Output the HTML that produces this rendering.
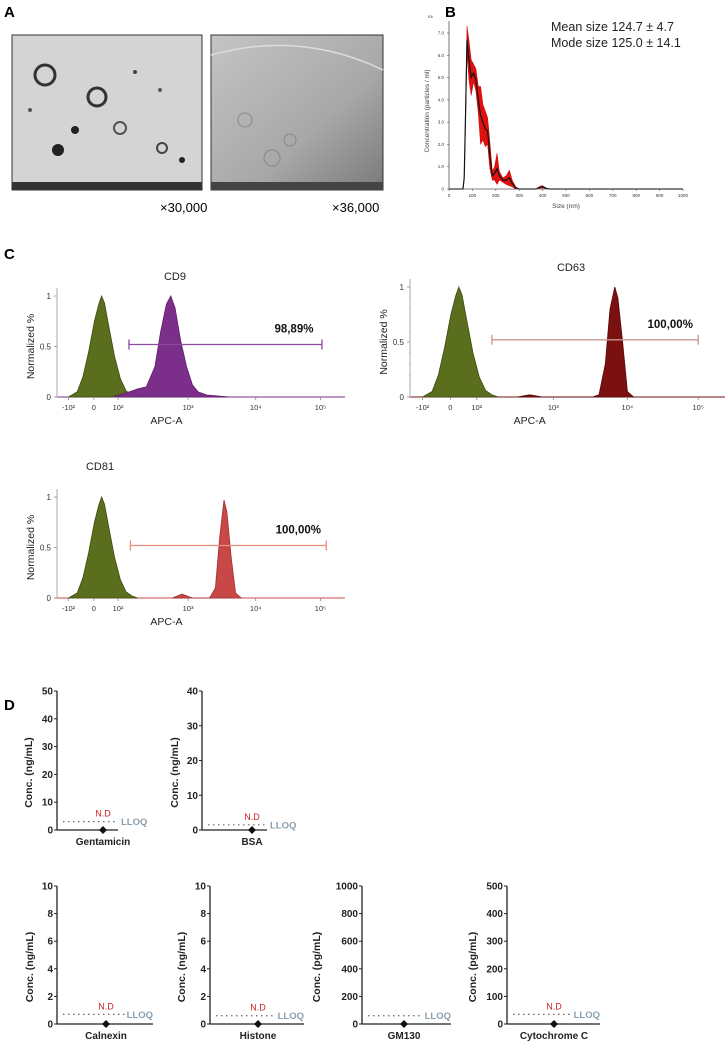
<!DOCTYPE html>
<html><head><meta charset="utf-8"><style>
html,body{margin:0;padding:0;background:#fff;}
svg{display:block;font-family:"Liberation Sans",sans-serif;}
</style></head><body>
<svg id="fig" width="728" height="1041" viewBox="0 0 728 1041" xmlns="http://www.w3.org/2000/svg">
<defs>
<linearGradient id="gA2" x1="0" y1="0" x2="1" y2="1">
<stop offset="0" stop-color="#c4c4c4"/><stop offset="0.6" stop-color="#a8a8a8"/><stop offset="1" stop-color="#7a7a7a"/>
</linearGradient>
</defs>
<text x="4" y="17" font-size="15" font-weight="bold">A</text>
<g>
<rect x="12" y="35" width="190" height="155" fill="#d4d4d4" stroke="#333" stroke-width="1"/>
<circle cx="45" cy="75" r="10" fill="none" stroke="#333" stroke-width="3"/>
<circle cx="97" cy="97" r="9" fill="none" stroke="#333" stroke-width="3"/>
<circle cx="120" cy="128" r="6" fill="none" stroke="#555" stroke-width="2"/>
<circle cx="75" cy="130" r="4" fill="#222"/>
<circle cx="58" cy="150" r="6" fill="#222"/>
<circle cx="162" cy="148" r="5" fill="none" stroke="#444" stroke-width="2"/>
<circle cx="182" cy="160" r="3" fill="#222"/>
<circle cx="135" cy="72" r="2" fill="#444"/><circle cx="160" cy="90" r="2" fill="#555"/><circle cx="30" cy="110" r="2" fill="#555"/>
<rect x="12" y="182" width="190" height="8" fill="#333"/>
</g>
<g>
<rect x="211" y="35" width="172" height="155" fill="url(#gA2)" stroke="#333" stroke-width="1"/>
<path d="M211 55 Q300 30 383 70" fill="none" stroke="#ddd" stroke-width="1.5"/>
<circle cx="245" cy="120" r="7" fill="none" stroke="#888"/>
<circle cx="272" cy="158" r="8" fill="none" stroke="#888"/>
<circle cx="290" cy="140" r="6" fill="none" stroke="#888"/>
<rect x="211" y="182" width="172" height="8" fill="#444"/>
</g>
<text x="160" y="212" font-size="13">×30,000</text>
<text x="332" y="212" font-size="13">×36,000</text>

<text x="445" y="17" font-size="15" font-weight="bold">B</text>
<g id="nta"></g>

<text x="4" y="259" font-size="15" font-weight="bold">C</text>
<g id="flow"></g>

<text x="4" y="710" font-size="15" font-weight="bold">D</text>
<g id="elisa"></g>
</svg>
<script>
// ---------- Panel B data ----------
const ntaSize=[0,50,60,65,70,77,85,95,105,115,125,135,145,155,165,175,185,195,205,215,230,245,258,270,285,300,370,390,400,415,430,1000];
const ntaMean=[0,0,0,0.5,3.0,6.7,5.8,5.0,5.2,4.9,4.0,3.3,3.0,2.7,2.6,1.5,0.6,0.7,0.9,0.6,0.4,0.4,0.5,0.25,0.05,0,0,0.08,0.1,0.03,0,0];
const ntaErr=[0,0,0,0.05,0.2,0.6,0.9,0.8,0.4,0.5,0.6,1.3,0.8,0.8,0.6,0.6,0.2,0.3,0.7,0.2,0.1,0.2,0.35,0.15,0.05,0,0,0.05,0.05,0.02,0,0];
const ntaXTicks=[0,100,200,300,400,500,600,700,800,900,1000];
const ntaYTicks=[0,1,2,3,4,5,6,7];
const ntaYTickLabels=["0","1.0","2.0","3.0","4.0","5.0","6.0","7.0"];

// ---------- Panel C data ----------
const flowTitles=["CD9","CD63","CD81"];
const flowGatePct=["98,89%","100,00%","100,00%"];
const flowTickCh=[4,12.8,21.2,45.5,69,91.5];
const flowTickLabels=["-10²","0","10²","10³","10⁴","10⁵"];
const flowYTicks=[0,0.5,1];
const flowGate=[[25,92],[26,91.5],[25.5,93.5]];
const gfpX=[4,7,9,11,13,14.5,15.5,16.5,18,20,22,24,26,28];
const gfpY=[0,0.05,0.2,0.45,0.75,0.92,1.0,0.93,0.7,0.4,0.18,0.06,0.02,0];
const cd9X=[20,24,28,31,34,36,38,39.5,41,43,45,47,49,52,56,60];
const cd9Y=[0.01,0.04,0.08,0.1,0.3,0.65,0.92,1,0.88,0.55,0.3,0.12,0.05,0.02,0.01,0];
const cd63X=[34,38,42,58,60,62,63.5,65,66,67.5,69,71];
const cd63Y=[0,0.02,0,0,0.02,0.3,0.8,1,0.9,0.5,0.05,0];
const cd81X=[40,43.4,47,53,55,56.5,58,59,60.5,62,64];
const cd81Y=[0,0.04,0,0,0.1,0.6,0.97,0.85,0.4,0.05,0];

// ---------- Panel D data ----------
const dNames=["Gentamicin","BSA","Calnexin","Histone","GM130","Cytochrome C"];
const dUnits=["ng/mL","ng/mL","ng/mL","ng/mL","pg/mL","pg/mL"];
const dMax=[50,40,10,10,1000,500];
const dStep=[10,10,2,2,200,100];
const dLLOQ=[3,1.5,0.7,0.6,60,35];
const dValue=[0,0,0,0,0,0];
const dShowND=[true,true,true,true,false,true];

const NS="http://www.w3.org/2000/svg";
function mk(tag,attrs,parent,txt){const e=document.createElementNS(NS,tag);for(const k in attrs)e.setAttribute(k,attrs[k]);if(txt!==undefined)e.textContent=txt;parent.appendChild(e);return e;}

// ===== Panel B =====
(function(){
const g=document.getElementById('nta');
const x0=449,x1=683,y0=189,y1=33;
const xN=v=>x0+v*(x1-x0)/1000;
const yN=v=>y0-v*(y0-y1)/7;
let up="",lo="";
for(let i=0;i<ntaSize.length;i++){up+=(i?"L":"M")+xN(ntaSize[i]).toFixed(1)+" "+yN(ntaMean[i]+ntaErr[i]).toFixed(1);}
for(let i=ntaSize.length-1;i>=0;i--){lo+="L"+xN(ntaSize[i]).toFixed(1)+" "+yN(Math.max(0,ntaMean[i]-ntaErr[i])).toFixed(1);}
const band=mk('path',{d:up+lo+"Z",fill:"#e01010",stroke:"#c00",'stroke-width':0.5},g);


let m="";
for(let i=0;i<ntaSize.length;i++){m+=(i?"L":"M")+xN(ntaSize[i]).toFixed(1)+" "+yN(ntaMean[i]).toFixed(1);}
const ml=mk('path',{d:m,fill:"none",stroke:"#111",'stroke-width':1.2},g);


mk('line',{x1:x0,y1:y0,x2:x1,y2:y0,stroke:"#555",'stroke-width':0.8},g);
mk('line',{x1:x0,y1:y0,x2:x0,y2:y1-12,stroke:"#555",'stroke-width':0.8},g);
ntaXTicks.forEach(v=>{
 mk('line',{x1:xN(v),y1:y0,x2:xN(v),y2:y0+2,stroke:"#555",'stroke-width':0.6},g);
 const t=mk('text',{x:xN(v),y:y0+8,'font-size':4.5,'text-anchor':'middle',fill:'#333'},g,String(v));
 
 
});
ntaYTicks.forEach((v,i)=>{
 mk('line',{x1:x0-2,y1:yN(v),x2:x0,y2:yN(v),stroke:"#555",'stroke-width':0.6},g);
 const t=mk('text',{x:x0-5,y:yN(v)+1.5,'font-size':4.5,'text-anchor':'end',fill:'#333'},g,ntaYTickLabels[i]);
 
 
});
mk('text',{x:428,y:18,'font-size':4,fill:'#333'},g,"E6");
const xt=mk('text',{x:(x0+x1)/2,y:208,'font-size':6.5,'text-anchor':'middle',fill:'#444'},g,"Size (nm)");


const yt=mk('text',{x:0,y:0,'font-size':6.5,'text-anchor':'middle',fill:'#444',transform:'translate(429,111) rotate(-90)'},g,"Concentration (particles / ml)");


const s1=mk('text',{x:551,y:31,'font-size':12.5,fill:'#222'},g,"Mean size 124.7 ± 4.7");


const s2=mk('text',{x:551,y:47,'font-size':12.5,fill:'#222'},g,"Mode size 125.0 ± 14.1");


})();

// ===== Panel C =====
(function(){
const root=document.getElementById('flow');
const layouts=[
 {ax:57,ar:345,y0:397,y1:296,tx:175,ty:280,col:"#7b2f8a",edge:"#5e1f6a",gate:"#8b4a9a",px:cd9X,py:cd9Y},
 {ax:410,ar:725,y0:397,y1:287,tx:571,ty:271,col:"#7a1010",edge:"#5a0808",gate:"#c99595",px:cd63X,py:cd63Y},
 {ax:57,ar:345,y0:598,y1:497,tx:100,ty:470,col:"#c84848",edge:"#a03030",gate:"#e8907a",px:cd81X,py:cd81Y}
];
layouts.forEach((L,k)=>{
 const g=mk('g',{},root);
 
 
 const xs=c=>L.ax+c*(L.ar-L.ax)/100;
 const ys=v=>L.y0-v*(L.y0-L.y1);
 function area(X,Y,fill,edge,name){
  let d="M"+xs(X[0]).toFixed(1)+" "+L.y0;
  for(let i=0;i<X.length;i++)d+="L"+xs(X[i]).toFixed(1)+" "+ys(Y[i]).toFixed(1);
  d+="L"+xs(X[X.length-1]).toFixed(1)+" "+L.y0+"Z";
  const p=mk('path',{d:d,fill:fill,stroke:edge,'stroke-width':0.8},g);
  
  
 }
 mk('line',{x1:L.ax,y1:L.y0,x2:L.ar,y2:L.y0,stroke:L.col,'stroke-width':1},g);
 area(gfpX,gfpY,"#5a6e1e","#3e4c12","isotype-control-peak");
 area(L.px,L.py,L.col,L.edge,"marker-peak");
 mk('line',{x1:L.ax,y1:L.y0,x2:L.ax,y2:L.y1-8,stroke:"#aaa",'stroke-width':1},g);
 flowYTicks.forEach(v=>{
  mk('line',{x1:L.ax-3,y1:ys(v),x2:L.ax,y2:ys(v),stroke:"#888",'stroke-width':0.8},g);
  const t=mk('text',{x:L.ax-6,y:ys(v)+3,'font-size':8,'text-anchor':'end',fill:'#333'},g,String(v));
  
  
 });
 for(let v=0.1;v<1;v+=0.1){mk('line',{x1:L.ax-1.5,y1:ys(v),x2:L.ax,y2:ys(v),stroke:"#aaa",'stroke-width':0.5},g);}
 flowTickCh.forEach((c,i)=>{
  mk('line',{x1:xs(c),y1:L.y0,x2:xs(c),y2:L.y0+3,stroke:"#888",'stroke-width':0.8},g);
  const t=mk('text',{x:xs(c),y:L.y0+13,'font-size':7.5,'text-anchor':'middle',fill:'#333'},g,flowTickLabels[i]);
  
  
 });
 const gy=ys(0.52),gx1=xs(flowGate[k][0]),gx2=xs(flowGate[k][1]);
 const gl=mk('path',{d:`M${gx1} ${gy-5}V${gy+5}M${gx1} ${gy}H${gx2}M${gx2} ${gy-5}V${gy+5}`,stroke:L.gate,'stroke-width':1.3,fill:'none'},g);
 
 
 const pt=mk('text',{x:gx2-28,y:gy-12,'font-size':11.5,'font-weight':'bold','text-anchor':'middle',fill:'#111'},g,flowGatePct[k]);
 
 
 const tt=mk('text',{x:L.tx,y:L.ty,'font-size':11,'text-anchor':'middle',fill:'#222'},g,flowTitles[k]);
 
 
 const xt=mk('text',{x:xs(38),y:L.y0+27,'font-size':10.5,'text-anchor':'middle',fill:'#222'},g,"APC-A");
 
 
 const yt=mk('text',{x:0,y:0,'font-size':10.5,'text-anchor':'middle',fill:'#222',transform:`translate(${L.ax-23},${(L.y0+L.y1)/2}) rotate(-90)`},g,"Normalized %");
 
 
});
})();

// ===== Panel D =====
(function(){
const root=document.getElementById('elisa');
const layouts=[
 {ax:57,ar:118,top:691,bot:830,cx:103,tOff:25,inside:false},
 {ax:202,ar:267,top:691,bot:830,cx:252,tOff:24,inside:false},
 {ax:57,ar:153,top:886,bot:1024,cx:106,tOff:24,inside:true},
 {ax:210,ar:304,top:886,bot:1024,cx:258,tOff:25,inside:true},
 {ax:362,ar:451,top:886,bot:1024,cx:404,tOff:42,inside:true},
 {ax:507,ar:600,top:886,bot:1024,cx:554,tOff:31,inside:true}
];
layouts.forEach((L,k)=>{
 const g=mk('g',{},root);
 
 
 const yv=v=>L.bot-v*(L.bot-L.top)/dMax[k];
 const cx=L.cx;
 mk('line',{x1:L.ax,y1:L.top,x2:L.ax,y2:L.bot,stroke:"#222",'stroke-width':1.3},g);
 mk('line',{x1:L.ax,y1:L.bot,x2:L.ar,y2:L.bot,stroke:"#222",'stroke-width':1.3},g);
 for(let v=0;v<=dMax[k]+1e-9;v+=dStep[k]){
  mk('line',{x1:L.ax-3,y1:yv(v),x2:L.ax,y2:yv(v),stroke:"#222",'stroke-width':1},g);
  const t=mk('text',{x:L.ax-4,y:yv(v)+3.5,'font-size':10,'font-weight':'bold','text-anchor':'end',fill:'#222'},g,String(v));
  
  
 }
 const lineEnd=L.inside?L.ar-28:L.ar;
 const ll=mk('line',{x1:L.ax+6,y1:yv(dLLOQ[k]),x2:lineEnd,y2:yv(dLLOQ[k]),stroke:"#666",'stroke-width':1.2,'stroke-dasharray':'1.5 3.5'},g);
 
 
 const lt=mk('text',{x:L.inside?L.ar:L.ar+3,y:yv(dLLOQ[k])+3.5,'font-size':9.5,'font-weight':'bold','text-anchor':L.inside?'end':'start',fill:'#8aa0b0'},g,"LLOQ");
 
 
 if(dShowND[k]){
  const nd=mk('text',{x:cx,y:yv(dLLOQ[k])-5,'font-size':9,'text-anchor':'middle',fill:'#d02020'},g,"N.D");
  
  
 }
 const y=yv(dValue[k]);
 const dm=mk('path',{d:`M${cx} ${y-4}L${cx+4} ${y}L${cx} ${y+4}L${cx-4} ${y}Z`,fill:"#111"},g);
 
 
 const xt=mk('text',{x:cx,y:L.bot+15,'font-size':10,'font-weight':'bold','text-anchor':'middle',fill:'#222'},g,dNames[k]);
 
 
 const yt=mk('text',{x:0,y:0,'font-size':10.5,'font-weight':'bold','text-anchor':'middle',fill:'#222',transform:`translate(${L.ax-L.tOff},${(L.top+L.bot)/2+12}) rotate(-90)`},g,"Conc. ("+dUnits[k]+")");
 
 
});
})();
</script>
</body></html>
